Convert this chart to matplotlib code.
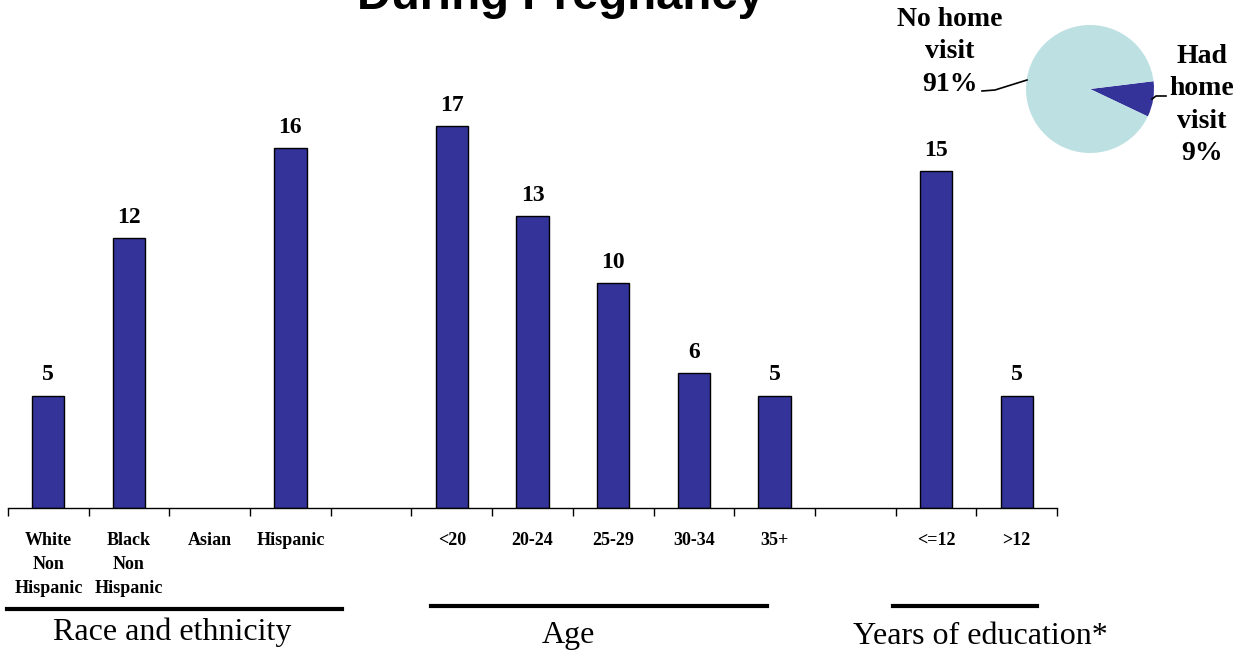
# home visits during pregnancy: bar chart by group + inset pie
import numpy as np
import matplotlib.pyplot as plt

categories = ["White\nNon\nHispanic", "Black\nNon\nHispanic", "Asian", "Hispanic", "",
              "<20", "20-24", "25-29", "30-34", "35+", "",
              "<=12", ">12"]
values = [5, 12, None, 16, None, 17, 13, 10, 6, 5, None, 15, 5]

groups = ["Race and ethnicity", "Age", "Years of education*"]
pie_labels = ["Had\nhome\nvisit\n9%", "No home\nvisit\n91%"]
pie_values = [9, 91]

BAR = "#333399"
PIE_LIGHT = "#BDE0E3"
SERIF = "Liberation Serif"

W, H = 1247, 652
fig = plt.figure(figsize=(W / 100, H / 100), dpi=100)

def fx(px):
    return px / W

def fy(py):
    return 1 - py / H

# main bar axes: axis line at y=508 px, x from 8 to 1057 px
ax = fig.add_axes([fx(8), fy(508), fx(1057 - 8), (508 - 58.6) / H])
n = len(categories)
x = np.arange(n) + 0.5
bx = [xi for xi, v in zip(x, values) if v is not None]
bv = [v for v in values if v is not None]
ax.bar(bx, bv, width=0.4, color=BAR, edgecolor="black", linewidth=1)
for xi, v in zip(bx, bv):
    ax.annotate(str(v), (xi, v), xytext=(0, 11), textcoords="offset points",
                ha="center", va="baseline", fontsize=17, fontweight="bold",
                family=SERIF)

ax.set_xlim(0, n)
ax.set_ylim(0, 20)
ax.set_xticks(np.arange(n + 1))
ax.set_xticklabels([])
ax.set_xticks(x, minor=True)
ax.set_xticklabels(categories, minor=True, fontsize=13, fontweight="bold",
                   family=SERIF, linespacing=1.55, va="top")
ax.tick_params(axis="x", which="major", length=6, width=1, direction="out")
ax.tick_params(axis="x", which="minor", length=0, pad=17)
ax.set_yticks([])
for s in ["top", "right", "left"]:
    ax.spines[s].set_visible(False)
ax.spines["bottom"].set_linewidth(1)

# group underlines and names
group_lines = [(7, 342, 609), (431, 767, 606), (893, 1037, 606)]
group_text = [(172, 632), (568, 636), (980, 636)]
for (x0, x1, yl), (tx, ty), name in zip(group_lines, group_text, groups):
    fig.add_artist(plt.Line2D([fx(x0), fx(x1)], [fy(yl), fy(yl)], color="black",
                              linewidth=3))
    fig.text(fx(tx), fy(ty), name, ha="center", va="center", fontsize=23,
             family=SERIF)

# title (cut off at top in the original)
fig.text(fx(560), fy(9), "During Pregnancy", ha="center", va="baseline",
         fontsize=34, fontweight="bold", family="Liberation Sans")

# inset pie
pax = fig.add_axes([fx(1026), fy(153), fx(128), 128 / H])
pax.pie(pie_values, colors=[BAR, PIE_LIGHT], startangle=-25.4,
        counterclock=True, wedgeprops=dict(linewidth=0))
pax.set_xlim(-1, 1)
pax.set_ylim(-1, 1)
pax.set_aspect("equal")

fig.text(fx(950), fy(52), pie_labels[1], ha="center", va="center", fontsize=20,
         fontweight="bold", family=SERIF, linespacing=1.4)
fig.text(fx(1202), fy(105), pie_labels[0], ha="center", va="center", fontsize=20,
         fontweight="bold", family=SERIF, linespacing=1.4)
fig.add_artist(plt.Line2D([fx(982), fx(995), fx(1027)], [fy(91), fy(90), fy(80)],
                          color="black", linewidth=1.2))
fig.add_artist(plt.Line2D([fx(1152), fx(1156), fx(1166)], [fy(99), fy(96), fy(96)],
                          color="black", linewidth=1.2))

fig.savefig("out.png", dpi=100)
